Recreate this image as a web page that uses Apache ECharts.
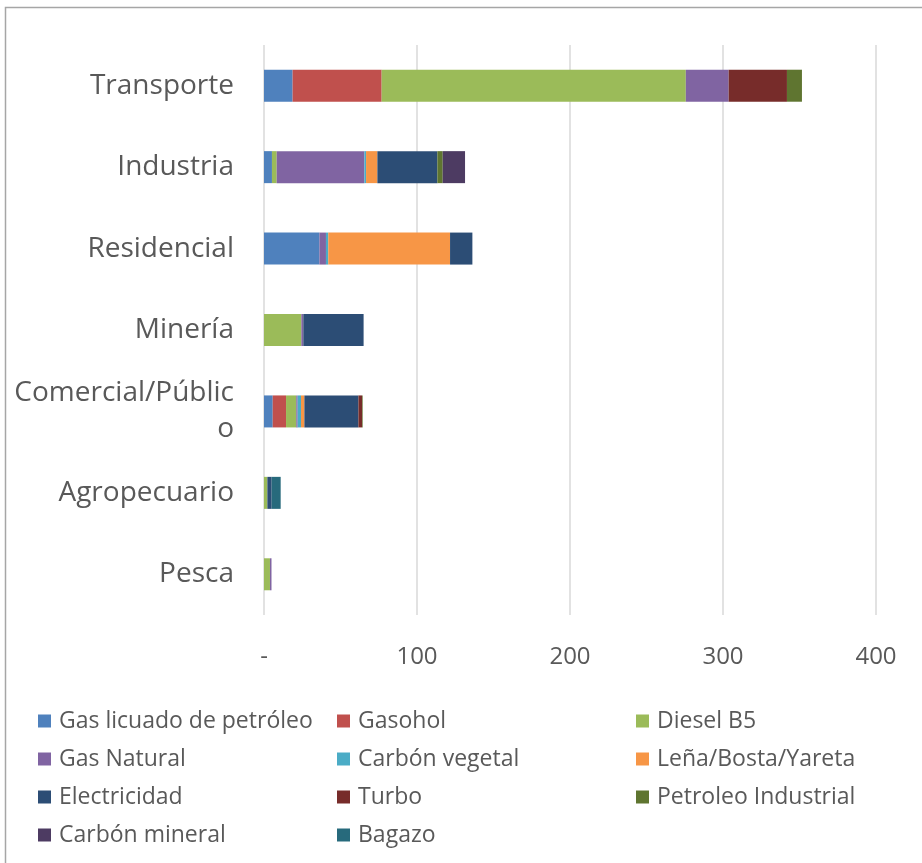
<!DOCTYPE html>
<html>
<head>
<meta charset="utf-8">
<script src="https://cdn.jsdelivr.net/npm/echarts@6/dist/echarts.min.js"></script>
<style>html,body{margin:0;padding:0;background:#fff}#c{width:922px;height:863px}</style>
</head>
<body>
<div id="c"></div>
<script>
const categories = ['Transporte', 'Industria', 'Residencial', 'Minería', 'Comercial/Público', 'Agropecuario', 'Pesca'];
const xTicks = ['-', '100', '200', '300', '400'];

const gasLicuado        = [18.7, 5.2, 36.2, 0, 5.7, 0, 0];
const gasohol           = [58.2, 0, 0, 0, 8.7, 0, 0];
const dieselB5          = [198.8, 3.1, 0, 24.4, 6.7, 2.2, 3.9];
const gasNatural        = [28.0, 57.3, 4.3, 1.3, 0.9, 0, 1.0];
const carbonVegetal     = [0, 1.1, 1.5, 0, 2.2, 0, 0];
const lenaBostaYareta   = [0, 7.4, 79.6, 0, 2.2, 0, 0];
const electricidad      = [0, 39.2, 14.6, 39.4, 35.3, 2.8, 0];
const turbo             = [38.1, 0, 0, 0, 2.4, 0, 0];
const petroleoIndustrial= [9.8, 3.5, 0, 0, 0.4, 0, 0];
const carbonMineral     = [0, 14.6, 0, 0, 0, 0, 0];
const bagazo            = [0, 0, 0, 0, 0, 5.9, 0];

const seriesNames = ['Gas licuado de petróleo', 'Gasohol', 'Diesel B5', 'Gas Natural', 'Carbón vegetal', 'Leña/Bosta/Yareta', 'Electricidad', 'Turbo', 'Petroleo Industrial', 'Carbón mineral', 'Bagazo'];
const seriesData = [gasLicuado, gasohol, dieselB5, gasNatural, carbonVegetal, lenaBostaYareta, electricidad, turbo, petroleoIndustrial, carbonMineral, bagazo];
const colors = ['#4F81BD', '#C0504D', '#9BBB59', '#8064A2', '#4BACC6', '#F79646', '#2C4D75', '#772C2A', '#5F7530', '#4D3B62', '#276A7C'];

const FONT = '"Open Sans", Lato, sans-serif';
const chart = echarts.init(document.getElementById('c'), null, {renderer: 'canvas'});
chart.setOption({
  animation: false,
  color: colors,
  graphic: [{
    type: 'rect', shape: {x: 5.5, y: 7.5, width: 930, height: 870},
    style: {fill: 'none', stroke: '#A6A6A6', lineWidth: 1.5}, silent: true, z: -1
  }],
  grid: {left: 264, right: 46, top: 45, bottom: 248, containLabel: false},
  xAxis: {
    type: 'value', min: 0, max: 400, interval: 100,
    axisLine: {show: false}, axisTick: {show: false},
    splitLine: {show: true, lineStyle: {color: '#D9D9D9', width: 1.5}},
    axisLabel: {
      margin: 30, fontSize: 24, color: '#595959', fontFamily: FONT,
      formatter: function (v) { return xTicks[Math.round(v / 100)]; }
    }
  },
  yAxis: {
    type: 'category', data: categories, inverse: true,
    axisLine: {show: false}, axisTick: {show: false},
    axisLabel: {
      margin: 30, fontSize: 28, color: '#595959', fontFamily: FONT, lineHeight: 36,
      formatter: function (v) { return v === 'Comercial/Público' ? 'Comercial/Públic\no' : v; }
    }
  },
  legend: {
    left: 33, top: 697, width: 900, orient: 'horizontal',
    itemWidth: 13, itemHeight: 13, itemGap: 0, icon: 'rect',
    textStyle: {fontSize: 23, color: '#595959', fontFamily: FONT, width: 278, lineHeight: 38, padding: [0, 0, 0, 3]},
    data: seriesNames
  },
  series: seriesNames.map(function (name, i) {
    return {
      name: name, type: 'bar', stack: 'total', data: seriesData[i],
      barWidth: 32, itemStyle: {color: colors[i]}
    };
  })
});
</script>
</body>
</html>
